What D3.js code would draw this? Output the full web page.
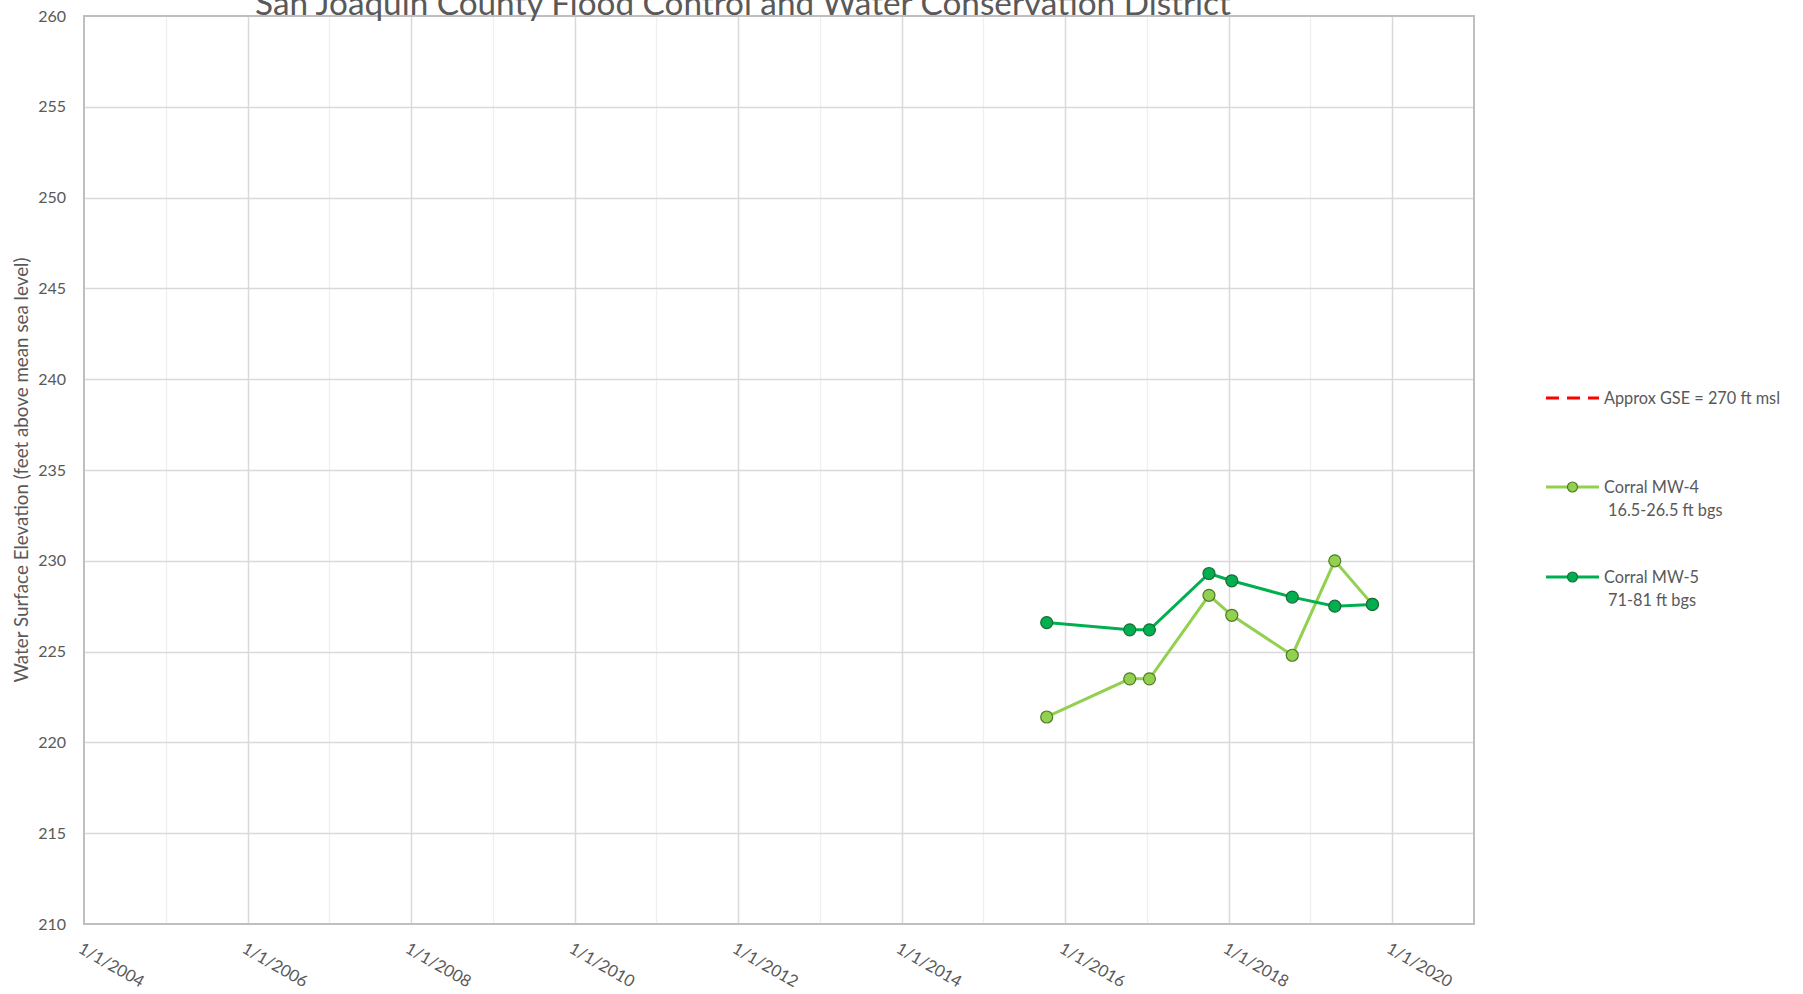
<!DOCTYPE html>
<head>
  <meta charset="utf-8">
  <script src="https://cdnjs.cloudflare.com/ajax/libs/d3/7.8.5/d3.min.js"></script>
  <style>
    body { margin:0; background:#fff; overflow:hidden; }
    svg { display:block; }
    text { font-family: Lato, "Open Sans", sans-serif; fill:#595959; }
  </style>
</head>

<body>
  <script>
    // hydrograph data
    var sampleDates = ["2015-10-11", "2016-10-16", "2017-01-12", "2017-10-05", "2018-01-15", "2018-10-12", "2019-04-20", "2019-10-05"];
    var mw4Values = [221.4, 223.5, 223.5, 228.1, 227.0, 224.8, 230.0, 227.6];
    var mw5Values = [226.6, 226.2, 226.2, 229.3, 228.9, 228.0, 227.5, 227.6];
    var gseValue = 270;

    var seriesNames = ["Approx GSE = 270 ft msl", "Corral MW-4", "Corral MW-5"];
    var seriesSubLabels = ["", "16.5-26.5 ft bgs", "71-81 ft bgs"];
    var yTicks = [210, 215, 220, 225, 230, 235, 240, 245, 250, 255, 260];
    var xTickYears = [2004, 2006, 2008, 2010, 2012, 2014, 2016, 2018, 2020];
    var minorYears = [2005, 2007, 2009, 2011, 2013, 2015, 2017, 2019];

    var chartTitle = "San Joaquin County Flood Control and Water Conservation District";
    var yTitle = "Water Surface Elevation (feet above mean sea level)";

    var W = 1803, H = 994;
    var margin = {top: 16, left: 84, right: 329, bottom: 70};
    var width = W - margin.left - margin.right;
    var height = H - margin.top - margin.bottom;

    var parse = d3.timeParse("%Y-%m-%d");
    var fmt = d3.timeFormat("%-m/%-d/%Y");

    var svg = d3.select("body").append("svg")
      .attr("width", W)
      .attr("height", H);

    var g = svg.append("g")
      .attr("transform", "translate(" + margin.left + "," + margin.top + ")");

    var x = d3.scaleTime()
      .domain([new Date(2004, 0, 1), new Date(2021, 0, 1)])
      .range([0, width]);
    var y = d3.scaleLinear()
      .domain([210, 260])
      .range([height, 0]);

    // minor vertical gridlines (odd years)
    g.append("g").selectAll("line").data(minorYears).enter().append("line")
      .attr("x1", function(d){ return Math.round(x(new Date(d, 0, 1))) + 0.5; })
      .attr("x2", function(d){ return Math.round(x(new Date(d, 0, 1))) + 0.5; })
      .attr("y1", 0).attr("y2", height)
      .style("stroke", "#efefef").style("stroke-width", 1.3);

    // major vertical gridlines
    g.append("g").selectAll("line").data(xTickYears.slice(1)).enter().append("line")
      .attr("x1", function(d){ return Math.round(x(new Date(d, 0, 1))) + 0.5; })
      .attr("x2", function(d){ return Math.round(x(new Date(d, 0, 1))) + 0.5; })
      .attr("y1", 0).attr("y2", height)
      .style("stroke", "#d9d9d9").style("stroke-width", 1.5);

    // horizontal gridlines
    g.append("g").selectAll("line").data(yTicks.slice(1, -1)).enter().append("line")
      .attr("x1", 0).attr("x2", width)
      .attr("y1", function(d){ return Math.round(y(d)) + 0.5; })
      .attr("y2", function(d){ return Math.round(y(d)) + 0.5; })
      .style("stroke", "#d9d9d9").style("stroke-width", 1.5);

    // plot area border
    g.append("rect")
      .attr("x", 0).attr("y", 0).attr("width", width).attr("height", height)
      .style("fill", "none").style("stroke", "#bfbfbf").style("stroke-width", 2);

    // y axis labels
    var yAxis = d3.axisLeft(y).tickValues(yTicks).tickSize(0).tickPadding(18);
    var yg = g.append("g").call(yAxis);
    yg.select(".domain").remove();
    yg.selectAll("text").style("font-size", "16px").style("fill", "#595959").style("font-family", "Lato");

    // x axis labels, rotated
    var xAxis = d3.axisBottom(x)
      .tickValues(xTickYears.map(function(yr){ return new Date(yr, 0, 1); }))
      .tickFormat(fmt).tickSize(0);
    var xg = g.append("g").attr("transform", "translate(0," + height + ")").call(xAxis);
    xg.select(".domain").remove();
    xg.selectAll("text")
      .style("font-size", "16.5px").style("fill", "#595959").style("font-family", "Lato")
      .attr("text-anchor", "start")
      .attr("y", 0).attr("dy", "0.75em").attr("x", 0)
      .attr("transform", "translate(-1,17) rotate(30)");

    var clip = svg.append("clipPath").attr("id", "plotclip").append("rect")
      .attr("width", width).attr("height", height);
    var plot = g.append("g").attr("clip-path", "url(#plotclip)");

    var line = d3.line()
      .x(function(d){ return x(d.date); })
      .y(function(d){ return y(d.value); });

    function makeSeries(values) {
      return sampleDates.map(function(s, i){ return {date: parse(s), value: values[i]}; });
    }

    var series = [
      {name: seriesNames[0], data: [{date: x.domain()[0], value: gseValue}, {date: x.domain()[1], value: gseValue}], color: "#ff0000", dash: "13,8", marker: false},
      {name: seriesNames[1], data: makeSeries(mw4Values), color: "#92d050", edge: "#4f7a28", marker: true},
      {name: seriesNames[2], data: makeSeries(mw5Values), color: "#00b050", edge: "#1b6b35", marker: true}
    ];

    series.forEach(function(s){
      plot.append("path")
        .datum(s.data)
        .attr("d", line)
        .style("fill", "none")
        .style("stroke", s.color)
        .style("stroke-width", 3)
        .style("stroke-dasharray", s.dash || null);
      if (s.marker) {
        plot.append("g").selectAll("circle").data(s.data).enter().append("circle")
          .attr("cx", function(d){ return x(d.date); })
          .attr("cy", function(d){ return y(d.value); })
          .attr("r", 6)
          .style("fill", s.color)
          .style("stroke", s.edge)
          .style("stroke-width", 1.2);
      }
    });

    // legend
    var legendY = [398, 487, 577];
    var legend = svg.append("g");
    series.forEach(function(s, i){
      var lg = legend.append("g").attr("transform", "translate(1546," + legendY[i] + ")");
      lg.append("line")
        .attr("x1", 0).attr("x2", 53).attr("y1", 0).attr("y2", 0)
        .style("stroke", s.color).style("stroke-width", 3)
        .style("stroke-dasharray", s.dash || null);
      if (s.marker) {
        lg.append("circle").attr("cx", 26.5).attr("cy", 0).attr("r", 5)
          .style("fill", s.color).style("stroke", s.edge).style("stroke-width", 1.2);
      }
      lg.append("text").attr("x", 58).attr("y", 5.5)
        .style("font-size", "16.3px")
        .text(s.name);
      if (seriesSubLabels[i]) {
        lg.append("text").attr("x", 62).attr("y", 28.5)
          .style("font-size", "16.3px")
          .text(seriesSubLabels[i]);
      }
    });

    // y axis title
    svg.append("text")
      .attr("transform", "translate(28," + (margin.top + height / 2) + ") rotate(-90)")
      .attr("text-anchor", "middle")
      .style("font-size", "18.8px")
      .text(yTitle);

    // chart title, cut off at top like the original
    svg.append("text")
      .attr("x", 743).attr("y", 15)
      .attr("text-anchor", "middle")
      .style("font-size", "33.3px")
      .text(chartTitle);
  </script>
</body>
